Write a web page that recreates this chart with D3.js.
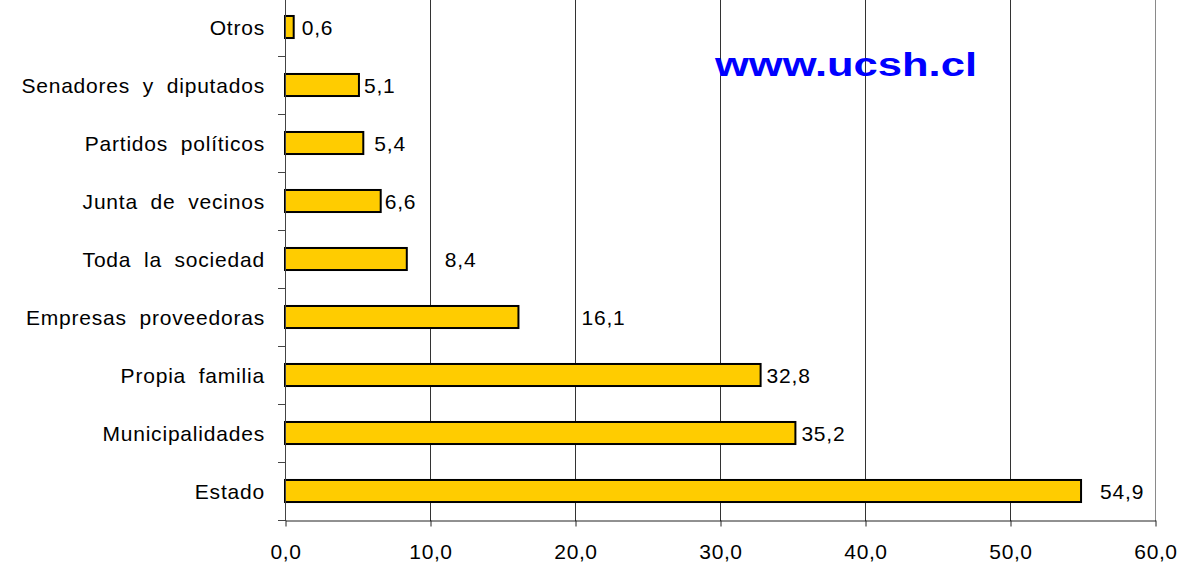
<!DOCTYPE html>
<html>
<head>
<meta charset="utf-8">
<script src="https://cdn.jsdelivr.net/npm/d3@7"></script>
<style>
  body { margin: 0; background: #fff; }
  text { font-family: "Liberation Sans", Arial, sans-serif; }
</style>
</head>
<body>
<div class="canvas"></div>
<script>
// data, top to bottom as in the picture
const categories = ["Otros", "Senadores y diputados", "Partidos políticos", "Junta de vecinos",
  "Toda la sociedad", "Empresas proveedoras", "Propia familia", "Municipalidades", "Estado"];
const values = [0.6, 5.1, 5.4, 6.6, 8.4, 16.1, 32.8, 35.2, 54.9];
const xTicks = [0, 10, 20, 30, 40, 50, 60];

// gap (px) between bar end and its value label, as placed in the original
const labelGaps = [8, 5, 11, 4, 38, 63, 6, 6, 19];

const dims = {width: 1189, height: 566};
const plot = {left: 285, right: 1155, top: -2, bottom: 520};

const svg = d3.select('.canvas')
  .append('svg')
  .attr('width', dims.width)
  .attr('height', dims.height);

const x = d3.scaleLinear()
  .domain([0, 60])
  .range([plot.left, plot.right]);

const y = d3.scaleBand()
  .domain(categories)
  .range([plot.top, plot.bottom])
  .paddingInner(0.62)
  .paddingOuter(0.31);

// vertical grid lines
svg.append('g')
  .selectAll('line')
  .data(xTicks.slice(1))
  .enter().append('line')
  .attr('x1', d => Math.round(x(d)) + 0.5)
  .attr('x2', d => Math.round(x(d)) + 0.5)
  .attr('y1', plot.top)
  .attr('y2', plot.bottom + 1)
  .attr('stroke', d => d === 60 ? '#8a8a8a' : '#333')
  .attr('stroke-width', 1);

// watermark
svg.append('text')
  .attr('x', 715)
  .attr('y', 76)
  .attr('textLength', 262)
  .attr('lengthAdjust', 'spacingAndGlyphs')
  .attr('font-size', 33)
  .attr('font-weight', 'bold')
  .attr('fill', '#0000ff')
  .text('www.ucsh.cl');

// bars
svg.append('g')
  .selectAll('rect')
  .data(values)
  .enter().append('rect')
  .attr('x', x(0))
  .attr('y', (d, i) => y(categories[i]))
  .attr('width', d => x(d) - x(0))
  .attr('height', y.bandwidth())
  .attr('fill', '#ffcc00')
  .attr('stroke', '#000')
  .attr('stroke-width', 2);

// value labels
svg.append('g')
  .selectAll('text')
  .data(values)
  .enter().append('text')
  .attr('x', (d, i) => x(d) + labelGaps[i])
  .attr('y', (d, i) => y(categories[i]) + y.bandwidth() / 2)
  .attr('dy', '0.36em')
  .attr('font-size', 21)
  .attr('letter-spacing', 0.8)
  .attr('fill', '#000')
  .text(d => d.toFixed(1).replace('.', ','));

// category labels
svg.append('g')
  .selectAll('text')
  .data(categories)
  .enter().append('text')
  .attr('x', 265)
  .attr('y', d => y(d) + y.bandwidth() / 2)
  .attr('dy', '0.36em')
  .attr('text-anchor', 'end')
  .attr('font-size', 21)
  .attr('letter-spacing', 0.8)
  .attr('word-spacing', 6)
  .attr('fill', '#000')
  .text(d => d);

// y axis line and ticks at band boundaries
const step = y.step();
svg.append('line')
  .attr('x1', plot.left + 0.5).attr('x2', plot.left + 0.5)
  .attr('y1', plot.top).attr('y2', plot.bottom + 1)
  .attr('stroke', '#444');
svg.append('g')
  .selectAll('line')
  .data(d3.range(1, categories.length + 1))
  .enter().append('line')
  .attr('x1', plot.left - 7)
  .attr('x2', plot.left)
  .attr('y1', i => Math.round(plot.top + i * step) + 0.5)
  .attr('y2', i => Math.round(plot.top + i * step) + 0.5)
  .attr('stroke', '#444');

// x axis
const xAxis = d3.axisBottom(x)
  .tickValues(xTicks)
  .tickFormat(d => d.toFixed(1).replace('.', ','))
  .tickSize(6)
  .tickPadding(18)
  .tickSizeOuter(0);

const xg = svg.append('g')
  .attr('transform', `translate(0.5,${plot.bottom + 0.5})`)
  .call(xAxis);
xg.select('.domain').attr('stroke', '#222');
xg.selectAll('.tick line').attr('stroke', '#222');
xg.selectAll('text')
  .attr('font-size', 21)
  .attr('letter-spacing', 0.6)
  .attr('font-family', '"Liberation Sans", Arial, sans-serif')
  .attr('fill', '#000');
</script>
</body>
</html>
